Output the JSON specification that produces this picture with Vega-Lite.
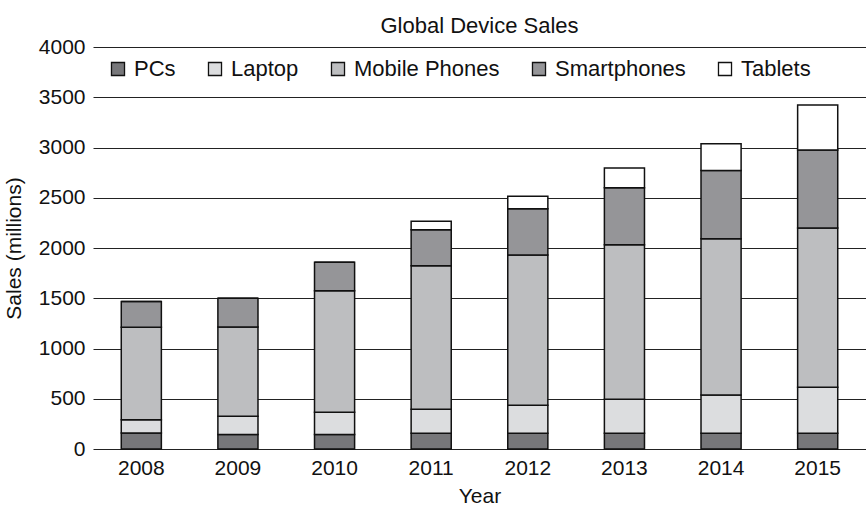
{
  "$schema": "https://vega.github.io/schema/vega-lite/v6.json",
  "width": 773,
  "height": 402,
  "autosize": {"type": "none"},
  "padding": {"left": 93, "top": 47, "right": 0, "bottom": 56},
  "background": "white",
  "title": {
    "text": "Global Device Sales",
    "font": "Liberation Sans",
    "fontSize": 22,
    "fontWeight": "normal",
    "color": "#111111",
    "anchor": "middle",
    "offset": -2
  },
  "data": {
    "values": [
      {"year": "2008", "device": "PCs", "rank": 1, "sales": 160},
      {"year": "2008", "device": "Laptop", "rank": 2, "sales": 130},
      {"year": "2008", "device": "Mobile Phones", "rank": 3, "sales": 922},
      {"year": "2008", "device": "Smartphones", "rank": 4, "sales": 255},
      {"year": "2008", "device": "Tablets", "rank": 5, "sales": 0},
      {"year": "2009", "device": "PCs", "rank": 1, "sales": 145},
      {"year": "2009", "device": "Laptop", "rank": 2, "sales": 180},
      {"year": "2009", "device": "Mobile Phones", "rank": 3, "sales": 888},
      {"year": "2009", "device": "Smartphones", "rank": 4, "sales": 288},
      {"year": "2009", "device": "Tablets", "rank": 5, "sales": 0},
      {"year": "2010", "device": "PCs", "rank": 1, "sales": 145},
      {"year": "2010", "device": "Laptop", "rank": 2, "sales": 220},
      {"year": "2010", "device": "Mobile Phones", "rank": 3, "sales": 1210},
      {"year": "2010", "device": "Smartphones", "rank": 4, "sales": 282},
      {"year": "2010", "device": "Tablets", "rank": 5, "sales": 0},
      {"year": "2011", "device": "PCs", "rank": 1, "sales": 156},
      {"year": "2011", "device": "Laptop", "rank": 2, "sales": 240},
      {"year": "2011", "device": "Mobile Phones", "rank": 3, "sales": 1428},
      {"year": "2011", "device": "Smartphones", "rank": 4, "sales": 358},
      {"year": "2011", "device": "Tablets", "rank": 5, "sales": 83},
      {"year": "2012", "device": "PCs", "rank": 1, "sales": 156},
      {"year": "2012", "device": "Laptop", "rank": 2, "sales": 280},
      {"year": "2012", "device": "Mobile Phones", "rank": 3, "sales": 1494},
      {"year": "2012", "device": "Smartphones", "rank": 4, "sales": 461},
      {"year": "2012", "device": "Tablets", "rank": 5, "sales": 123},
      {"year": "2013", "device": "PCs", "rank": 1, "sales": 156},
      {"year": "2013", "device": "Laptop", "rank": 2, "sales": 340},
      {"year": "2013", "device": "Mobile Phones", "rank": 3, "sales": 1536},
      {"year": "2013", "device": "Smartphones", "rank": 4, "sales": 568},
      {"year": "2013", "device": "Tablets", "rank": 5, "sales": 196},
      {"year": "2014", "device": "PCs", "rank": 1, "sales": 156},
      {"year": "2014", "device": "Laptop", "rank": 2, "sales": 382},
      {"year": "2014", "device": "Mobile Phones", "rank": 3, "sales": 1554},
      {"year": "2014", "device": "Smartphones", "rank": 4, "sales": 679},
      {"year": "2014", "device": "Tablets", "rank": 5, "sales": 266},
      {"year": "2015", "device": "PCs", "rank": 1, "sales": 156},
      {"year": "2015", "device": "Laptop", "rank": 2, "sales": 459},
      {"year": "2015", "device": "Mobile Phones", "rank": 3, "sales": 1583},
      {"year": "2015", "device": "Smartphones", "rank": 4, "sales": 776},
      {"year": "2015", "device": "Tablets", "rank": 5, "sales": 449}
    ]
  },
  "mark": {"type": "bar", "stroke": "#111111", "strokeWidth": 1.5},
  "encoding": {
    "x": {
      "field": "year",
      "type": "ordinal",
      "scale": {"paddingInner": 0.585, "paddingOuter": 0.2925},
      "axis": {
        "title": "Year",
        "labelAngle": 0,
        "ticks": false,
        "domain": false,
        "labelPadding": 8,
        "titlePadding": 7
      }
    },
    "y": {
      "field": "sales",
      "type": "quantitative",
      "stack": "zero",
      "scale": {"domain": [0, 4000], "nice": false},
      "axis": {
        "title": "Sales (millions)",
        "format": "d",
        "values": [0, 500, 1000, 1500, 2000, 2500, 3000, 3500, 4000],
        "ticks": false,
        "domain": false,
        "labelPadding": 8,
        "titlePadding": 14,
        "gridColor": "#222222",
        "gridWidth": 1.2,
        "gridOpacity": 1
      }
    },
    "color": {
      "field": "device",
      "type": "nominal",
      "sort": ["PCs", "Laptop", "Mobile Phones", "Smartphones", "Tablets"],
      "scale": {
        "domain": ["PCs", "Laptop", "Mobile Phones", "Smartphones", "Tablets"],
        "range": ["#77777a", "#dcdddf", "#bdbec0", "#959598", "#ffffff"]
      },
      "legend": {
        "title": null,
        "orient": "none",
        "legendX": 14,
        "legendY": 11,
        "direction": "horizontal",
        "symbolType": "square",
        "symbolSize": 170,
        "symbolStrokeColor": "#111111",
        "symbolStrokeWidth": 1.3,
        "symbolOpacity": 1,
        "labelFontSize": 22,
        "labelFont": "Liberation Sans",
        "labelColor": "#111111",
        "labelOffset": 5,
        "columnPadding": 28,
        "labelLimit": 300
      }
    },
    "order": {"field": "rank", "type": "quantitative", "sort": "ascending"}
  },
  "config": {
    "view": {"stroke": null},
    "font": "Liberation Sans",
    "axis": {
      "labelFont": "Liberation Sans",
      "labelFontSize": 21,
      "labelColor": "#111111",
      "titleFont": "Liberation Sans",
      "titleFontSize": 21,
      "titleFontWeight": "normal",
      "titleColor": "#111111"
    },
    "axisX": {"grid": false}
  }
}
